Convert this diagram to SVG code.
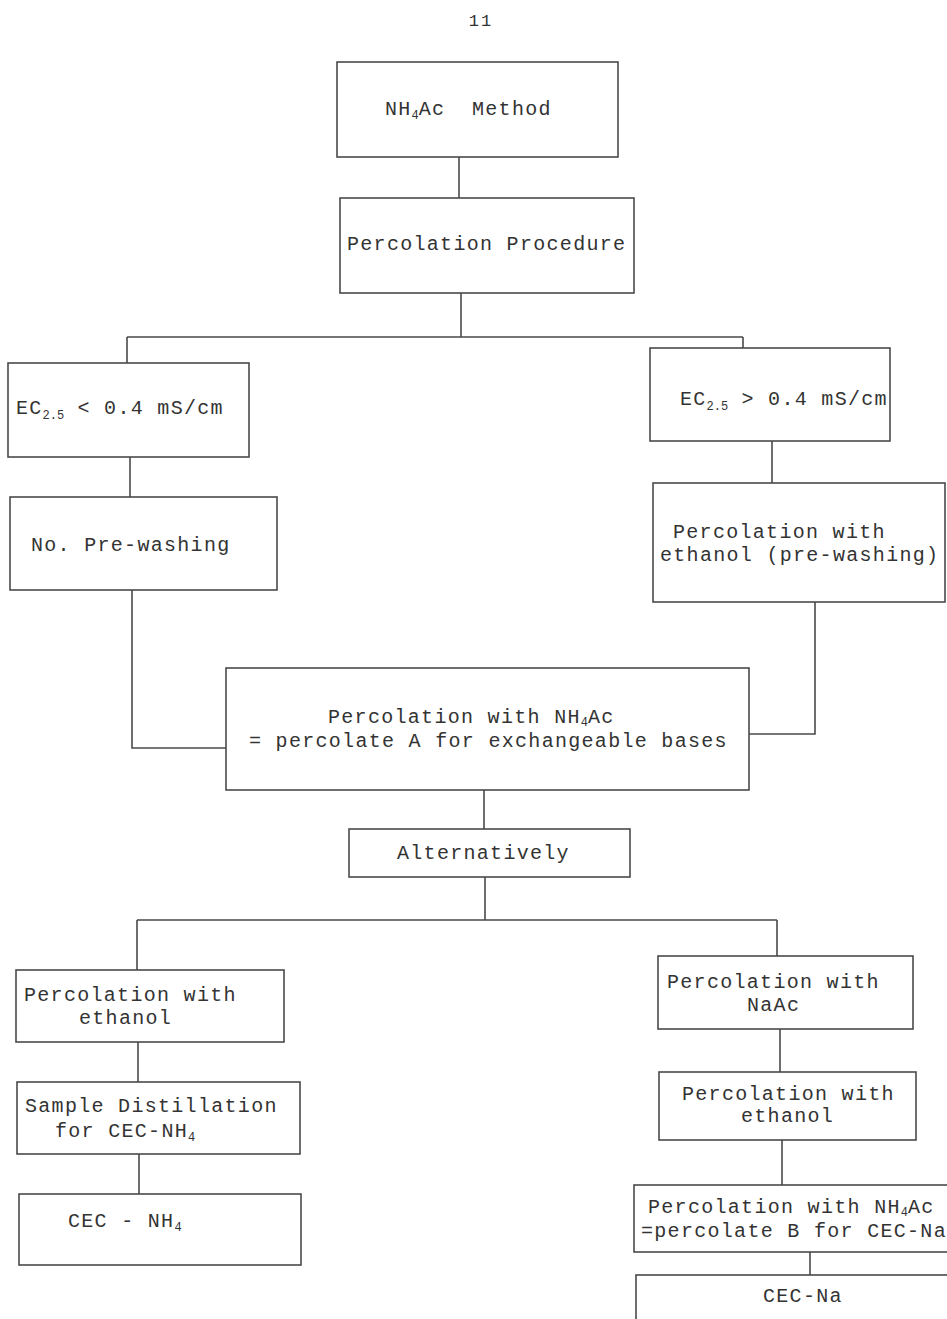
<svg xmlns="http://www.w3.org/2000/svg" width="947" height="1319" viewBox="0 0 947 1319">
<style>
.box{fill:none;stroke:#4a4a4a;stroke-width:1.6}
.ln{fill:none;stroke:#4a4a4a;stroke-width:1.6}
text{font-family:"Liberation Mono","DejaVu Sans Mono",monospace;font-size:20px;letter-spacing:1.3px;fill:#333}
.sub{font-size:12px;letter-spacing:0}
</style>
<rect width="947" height="1319" fill="#ffffff"/>
<text x="481" y="26" text-anchor="middle" style="font-size:17px;letter-spacing:2px">11</text>
<g id="connectors">
<path class="ln" d="M459,157 V198"/>
<path class="ln" d="M461,293 V337 M127,337 H743 M127,337 V363 M743,337 V348"/>
<path class="ln" d="M130,457 V497"/>
<path class="ln" d="M132,590 V748 H226"/>
<path class="ln" d="M772,441 V483"/>
<path class="ln" d="M815,602 V734 H749"/>
<path class="ln" d="M484,790 V829"/>
<path class="ln" d="M485,877 V920 M137,920 H777 M137,920 V970 M777,920 V956"/>
<path class="ln" d="M138,1042 V1082"/>
<path class="ln" d="M139,1154 V1194"/>
<path class="ln" d="M780,1029 V1072"/>
<path class="ln" d="M782,1140 V1185"/>
<path class="ln" d="M810,1252 V1275"/>
</g>
<g id="n1"><rect class="box" x="337" y="62" width="281" height="95"/>
<text x="385" y="115" xml:space="preserve">NH<tspan class="sub" dy="4">4</tspan><tspan dy="-4">Ac  Method</tspan></text></g>
<g id="n2"><rect class="box" x="340" y="198" width="294" height="95"/>
<text x="347" y="250">Percolation Procedure</text></g>
<g id="n3"><rect class="box" x="8" y="363" width="241" height="94"/>
<text x="16" y="414">EC<tspan class="sub" dy="5">2.5</tspan><tspan dy="-5"> &lt; 0.4 mS/cm</tspan></text></g>
<g id="n4"><rect class="box" x="10" y="497" width="267" height="93"/>
<text x="31" y="551">No. Pre-washing</text></g>
<g id="n5"><rect class="box" x="650" y="348" width="240" height="93"/>
<text x="680" y="405">EC<tspan class="sub" dy="5">2.5</tspan><tspan dy="-5"> &gt; 0.4 mS/cm</tspan></text></g>
<g id="n6"><rect class="box" x="653" y="483" width="292" height="119"/>
<text x="673" y="538">Percolation with</text>
<text x="660" y="561">ethanol (pre-washing)</text></g>
<g id="n7"><rect class="box" x="226" y="668" width="523" height="122"/>
<text x="328" y="723">Percolation with NH<tspan class="sub" dy="3">4</tspan><tspan dy="-3">Ac</tspan></text>
<text x="249" y="747">= percolate A for exchangeable bases</text></g>
<g id="n8"><rect class="box" x="349" y="829" width="281" height="48"/>
<text x="397" y="859">Alternatively</text></g>
<g id="n9"><rect class="box" x="16" y="970" width="268" height="72"/>
<text x="24" y="1001">Percolation with</text>
<text x="79" y="1024">ethanol</text></g>
<g id="n10"><rect class="box" x="17" y="1082" width="283" height="72"/>
<text x="25" y="1112">Sample Distillation</text>
<text x="55" y="1137">for CEC-NH<tspan class="sub" dy="4">4</tspan></text></g>
<g id="n11"><rect class="box" x="19" y="1194" width="282" height="71"/>
<text x="68" y="1227">CEC - NH<tspan class="sub" dy="4">4</tspan></text></g>
<g id="n12"><rect class="box" x="658" y="956" width="255" height="73"/>
<text x="667" y="988">Percolation with</text>
<text x="747" y="1011">NaAc</text></g>
<g id="n13"><rect class="box" x="659" y="1072" width="257" height="68"/>
<text x="682" y="1100">Percolation with</text>
<text x="741" y="1122">ethanol</text></g>
<g id="n14"><rect class="box" x="634" y="1185" width="320" height="67"/>
<text x="648" y="1213">Percolation with NH<tspan class="sub" dy="3">4</tspan><tspan dy="-3">Ac</tspan></text>
<text x="641" y="1237">=percolate B for CEC-Na</text></g>
<g id="n15"><rect class="box" x="636" y="1275" width="320" height="60"/>
<text x="763" y="1302">CEC-Na</text></g>
</svg>
